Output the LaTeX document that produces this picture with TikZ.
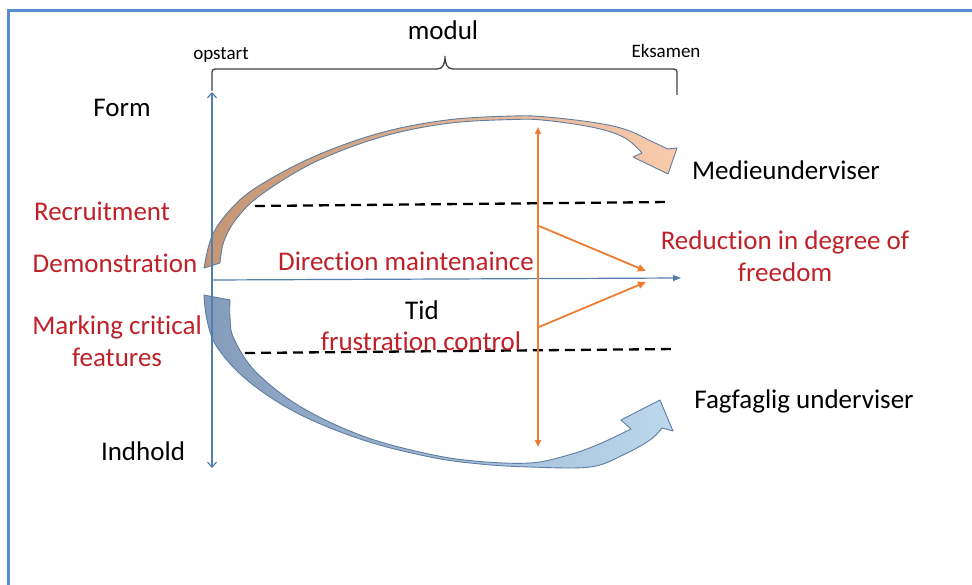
\documentclass[tikz,border=0pt]{standalone}
\usepackage{fontspec}
\setmainfont[Ligatures=NoCommon]{Carlito}
\usetikzlibrary{arrows.meta}
\definecolor{frameblue}{RGB}{85,142,213}
\definecolor{axisblue}{RGB}{84,127,172}
\definecolor{orng}{RGB}{237,125,49}
\definecolor{redtxt}{RGB}{192,32,40}
\definecolor{edgeblue}{RGB}{95,125,160}
\definecolor{peachA}{RGB}{196,150,116}
\definecolor{peachB}{RGB}{248,203,173}
\definecolor{steelA}{RGB}{132,156,186}
\definecolor{steelB}{RGB}{189,215,238}
\definecolor{bracegray}{RGB}{64,64,64}
\begin{document}
\begin{tikzpicture}[x=1pt,y=-1pt,
  lbl/.style={font=\fontsize{27}{32}\selectfont, inner sep=0pt, align=center},
  redlbl/.style={lbl, text=redtxt},
  smalllbl/.style={font=\fontsize{19}{22}\selectfont, inner sep=0pt},
  axisline/.style={draw=axisblue, line width=1.2pt},
  dashline/.style={draw=black, dash pattern=on 10pt off 6pt, line width=2.3pt},
  orangeline/.style={draw=orng, line width=1.8pt},
  bandarrow/.style={draw=edgeblue, line width=0.9pt, line join=round}]
\useasboundingbox (0,0) rectangle (972,585);
% frame
\draw[frameblue, line width=3pt] (8.5,585) -- (8.5,10.5) -- (972,10.5);

% brace
\node[lbl] (modul) at (443,30) {modul};
\node[smalllbl] (opstart) at (221,55) {opstart};
\node[smalllbl] (eksamen) at (666,51) {Eksamen};
\coordinate (bl) at (212,91);
\coordinate (br) at (677,95);
\draw[bracegray, line width=1.3pt] (bl) -- (212,76) .. controls (212,69) .. (219,69) -- (437,69)
  .. controls (443,69) and (445,64) .. (445,56)
  .. controls (445,64) and (447,69) .. (453,69) -- (670,69) .. controls (677,69) .. (677,76) -- (br);

% curved band arrows
\path[bandarrow, left color=peachA, right color=peachB]
  plot[smooth, tension=0.6] coordinates {(204,268) (212,236) (230,210) (257,187) (313,157) (380,133) (447,120) (513,116) (547,117) (597,123) (627,130) (653,142) (668,149)}
  -- (677,148) -- (668,174) -- (633,157) -- (642,153)
  -- plot[smooth, tension=0.6] coordinates {(642,153) (625,138) (596,128) (547,120.5) (513,119.5) (447,123.5) (381,137) (315,162) (262,194) (237,218) (224,241) (220,263)}
  -- cycle;
\path[bandarrow, left color=steelA, right color=steelB]
  plot[smooth, tension=0.6] coordinates {(204,295) (207,320) (217,347) (247,380) (297,413) (363,440) (430,457) (480,464) (530,467) (590,467) (623,455) (650,440) (662,428)}
  -- (673,431) -- (660,400) -- (621,420) -- (631,429)
  -- plot[smooth, tension=0.6] coordinates {(631,429) (597,445) (565,456) (530,463) (480,461.5) (431,454.5) (364,436.5) (301,407) (256,372) (234,339) (230,318) (230,300)}
  -- cycle;

% axes
\coordinate (vtop) at (212,92);
\coordinate (vbot) at (212,468);
\coordinate (horig) at (212,280);
\coordinate (hend) at (681,278);
\draw[axisline, {Straight Barb[length=5pt,width=9pt]}-{Straight Barb[length=5pt,width=9pt]}] (vtop) -- (vbot);
\draw[axisline, -{Triangle[length=8pt,width=6pt]}] (horig) -- (hend);

% dashed lines
\coordinate (d1a) at (255,206);
\coordinate (d1b) at (670,202);
\coordinate (d2a) at (245,353);
\coordinate (d2b) at (676,349);
\draw[dashline] (d1a) -- (d1b);
\draw[dashline] (d2a) -- (d2b);

% orange arrows
\coordinate (otop) at (538,127);
\coordinate (obot) at (538,447);
\coordinate (oa) at (539,226);
\coordinate (ob) at (539,327);
\coordinate (oc1) at (646,271);
\coordinate (oc2) at (646,282);
\draw[orangeline, {Triangle[length=7pt,width=6pt]}-{Triangle[length=7pt,width=6pt]}] (otop) -- (obot);
\draw[orangeline, -{Triangle[length=8pt,width=7pt]}] (oa) -- (oc1);
\draw[orangeline, -{Triangle[length=8pt,width=7pt]}] (ob) -- (oc2);

% labels
\node[lbl] (form) at (122,108) {Form};
\node[lbl] (indhold) at (143,451) {Indhold};
\node[lbl] (medie) at (786,170) {Medieunderviser};
\node[lbl] (fagf) at (804,401) {Fagfaglig underviser};
\node[lbl] (tid) at (422,310) {Tid};
\node[redlbl] (recruit) at (102,211) {Recruitment};
\node[redlbl] (demo) at (115,263) {Demonstration};
\node[redlbl] (marking) at (117,341) {Marking critical\\features};
\node[redlbl] (direction) at (406,261) {Direction maintenaince};
\node[redlbl] (frustr) at (421,341) {frustration control};
\node[redlbl] (reduction) at (785,256) {Reduction in degree of\\freedom};
\end{tikzpicture}
\end{document}
